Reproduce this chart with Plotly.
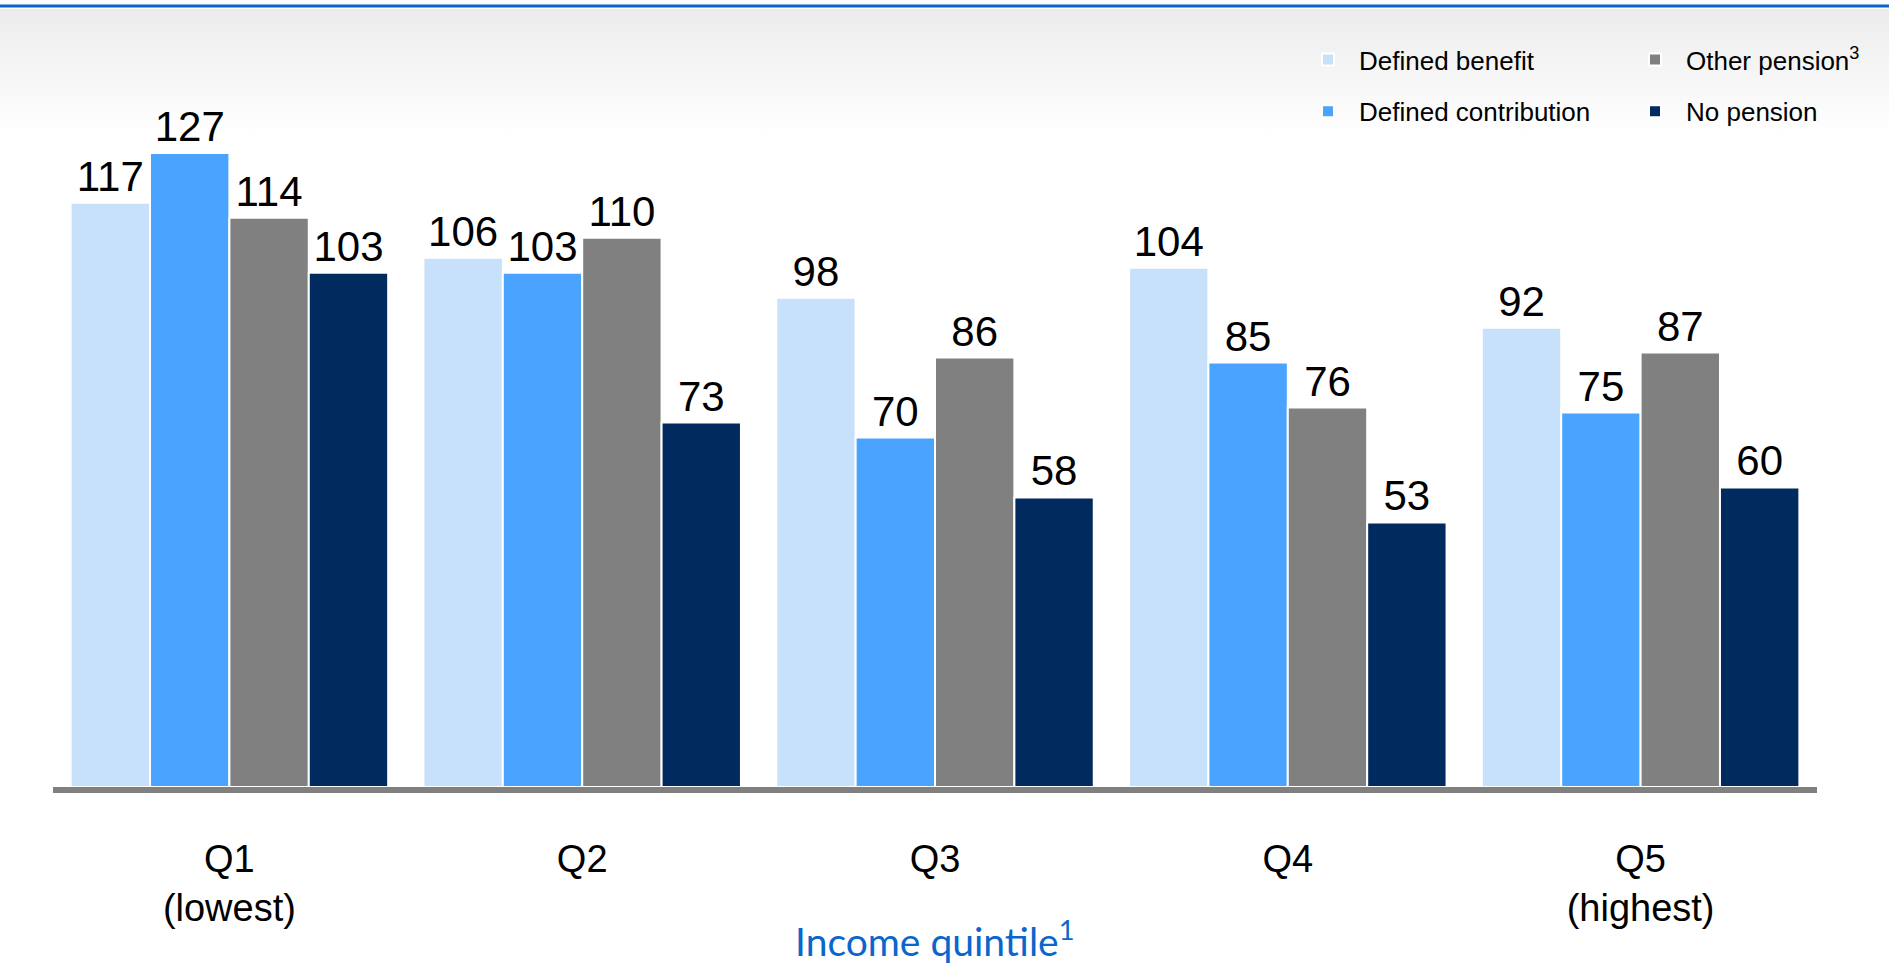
import base64
import plotly.graph_objects as go

# ---- data ----
categories = ["Q1<br>(lowest)", "Q2", "Q3", "Q4", "Q5<br>(highest)"]
series_names = ["Defined benefit", "Defined contribution", "Other pension<sup>3</sup>", "No pension"]
defined_benefit = [117, 106, 98, 104, 92]
defined_contribution = [127, 103, 70, 85, 75]
other_pension = [114, 110, 86, 76, 87]
no_pension = [103, 73, 58, 53, 60]
axis_title = "Income quintile<sup>1</sup>"

# ---- styling ----
colors = ["#c8e1fa", "#4aa3ff", "#808080", "#012a5e"]
legend_ids = ["legend", "legend", "legend2", "legend2"]
W, H = 1889, 966
L, R, T, B = 53, 72, 88, 179
plot_h = H - T - B
plot_w = W - L - R
YMAX = 140


def py(pix):
    """pixel y (from top) -> paper y"""
    return (H - B - pix) / plot_h


def px(pix):
    return (pix - L) / plot_w


fig = go.Figure()
all_values = [defined_benefit, defined_contribution, other_pension, no_pension]
for i, (name, vals) in enumerate(zip(series_names, all_values)):
    fig.add_trace(go.Bar(
        x=categories, y=vals, name=name,
        marker=dict(color=colors[i], line=dict(color="white", width=2)),
        text=[str(v) for v in vals], textposition="outside",
        textfont=dict(family="Liberation Sans, Arial, sans-serif", size=42, color="black"),
        cliponaxis=False,
        legend=legend_ids[i], legendgroup=f"g{i}",
        hoverinfo="x+y+name",
    ))

# background gradient (top band) as an SVG image
svg = ('<svg xmlns="http://www.w3.org/2000/svg" width="100" height="100" preserveAspectRatio="none">'
       '<defs><linearGradient id="g" x1="0" y1="0" x2="0" y2="1">'
       '<stop offset="0" stop-color="#ececec"/><stop offset="1" stop-color="#ffffff"/>'
       '</linearGradient></defs><rect width="100" height="100" fill="url(#g)"/></svg>')
svg_uri = "data:image/svg+xml;base64," + base64.b64encode(svg.encode()).decode()

legend_common = dict(
    orientation="v", xanchor="left", yanchor="top",
    font=dict(family="Liberation Sans, Arial, sans-serif", size=26, color="black"),
    bgcolor="rgba(0,0,0,0)", traceorder="grouped", tracegroupgap=15,
    itemwidth=52,
)

fig.update_layout(
    width=W, height=H,
    margin=dict(l=L, r=R, t=T, b=B, autoexpand=False),
    paper_bgcolor="white", plot_bgcolor="rgba(0,0,0,0)",
    barmode="group", bargap=0.1, bargroupgap=0,
    showlegend=True,
    legend=dict(x=px(1297), y=py(36), **legend_common),
    legend2=dict(x=px(1624), y=py(36), **legend_common),
    xaxis=dict(
        showline=True, linecolor="#808080", linewidth=6,
        showgrid=False, zeroline=False, ticks="",
        tickfont=dict(family="Liberation Sans, Arial, sans-serif", size=38, color="black"),
        ticklabelstandoff=33,
        fixedrange=True,
    ),
    yaxis=dict(range=[0, YMAX], visible=False, showgrid=False, zeroline=False, fixedrange=True),
    images=[dict(source=svg_uri, xref="paper", yref="paper",
                 x=px(0), y=py(9), sizex=W / plot_w, sizey=(135 - 9) / plot_h,
                 sizing="stretch", xanchor="left", yanchor="top", layer="below")],
    shapes=[dict(type="line", xref="paper", yref="paper",
                 x0=px(0), x1=px(W), y0=py(6), y1=py(6),
                 line=dict(color="#0a66cc", width=3))],
    annotations=[dict(text=axis_title, xref="paper", yref="paper",
                      x=0.5, y=py(938), xanchor="center", yanchor="middle",
                      showarrow=False,
                      font=dict(family="Lato, 'Open Sans', sans-serif", size=39, color="#0a66cc"))],
)

fig.write_html("out.html")
